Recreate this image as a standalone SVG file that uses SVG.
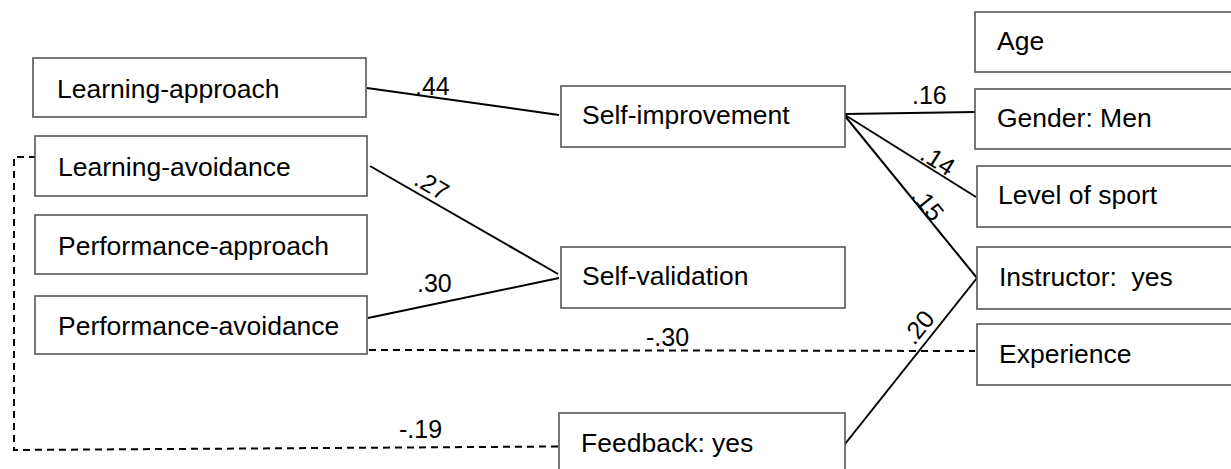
<svg xmlns="http://www.w3.org/2000/svg" width="1231" height="469" viewBox="0 0 1231 469">
  <style>
    .box { fill: #ffffff; stroke: #555555; stroke-width: 1.6; }
    .lbl { font-family: "Liberation Sans", Arial, sans-serif; font-size: 26.5px; fill: #000000; white-space: pre; }
    .coef { font-family: "Liberation Sans", Arial, sans-serif; font-size: 25px; fill: #000000; }
    .path { fill: none; stroke: #000000; stroke-width: 2; }
    .dash { fill: none; stroke: #000000; stroke-width: 2; stroke-dasharray: 7 5; }
  </style>
  <rect width="1231" height="469" fill="#ffffff"/>

  <!-- connectors -->
  <g id="connectors">
    <line class="path" x1="367" y1="88" x2="559" y2="115"/>
    <line class="path" x1="370" y1="166" x2="558" y2="274"/>
    <line class="path" x1="368" y1="318" x2="559" y2="278"/>
    <line class="path" x1="845" y1="114" x2="975" y2="112"/>
    <line class="path" x1="845" y1="115" x2="976" y2="197"/>
    <line class="path" x1="845" y1="116" x2="977" y2="278"/>
    <line class="path" x1="845" y1="444" x2="977" y2="278"/>
    <line class="dash" x1="369" y1="350" x2="975" y2="351"/>
    <polyline class="dash" points="558,446.5 14,450 14,157 35,157"/>

    <text class="coef" x="415" y="95">.44</text>
    <text class="coef" transform="translate(432,185) rotate(30)" text-anchor="middle" dy="9">.27</text>
    <text class="coef" x="417" y="292">.30</text>
    <text class="coef" x="912" y="104">.16</text>
    <text class="coef" transform="translate(938,160) rotate(32)" text-anchor="middle" dy="9">.14</text>
    <text class="coef" transform="translate(928,204) rotate(51)" text-anchor="middle" dy="9">.15</text>
    <text class="coef" transform="translate(918,327) rotate(-51.5)" text-anchor="middle" dy="9">.20</text>
    <text class="coef" x="646" y="346">-.30</text>
    <text class="coef" x="399" y="438">-.19</text>
  </g>

  <!-- goal orientation predictors -->
  <g id="learning-approach">
    <rect class="box" x="33" y="58" width="333" height="59"/>
    <text class="lbl" x="57" y="98">Learning-approach</text>
  </g>
  <g id="learning-avoidance">
    <rect class="box" x="35" y="136" width="332" height="60"/>
    <text class="lbl" x="58" y="176">Learning-avoidance</text>
  </g>
  <g id="performance-approach">
    <rect class="box" x="35" y="215" width="332" height="59"/>
    <text class="lbl" x="58" y="255">Performance-approach</text>
  </g>
  <g id="performance-avoidance">
    <rect class="box" x="35" y="296" width="332" height="58"/>
    <text class="lbl" x="58" y="335">Performance-avoidance</text>
  </g>

  <!-- middle column -->
  <g id="self-improvement">
    <rect class="box" x="561" y="86" width="284" height="61"/>
    <text class="lbl" x="582" y="124">Self-improvement</text>
  </g>
  <g id="self-validation">
    <rect class="box" x="561" y="247" width="284" height="61"/>
    <text class="lbl" x="582" y="285">Self-validation</text>
  </g>
  <g id="feedback">
    <rect class="box" x="559" y="413" width="286" height="70"/>
    <text class="lbl" x="581" y="452">Feedback: yes</text>
  </g>

  <!-- right column -->
  <g id="age">
    <rect class="box" x="975" y="12" width="270" height="60"/>
    <text class="lbl" x="997" y="50">Age</text>
  </g>
  <g id="gender">
    <rect class="box" x="975" y="89" width="270" height="60"/>
    <text class="lbl" x="997" y="127">Gender: Men</text>
  </g>
  <g id="level-of-sport">
    <rect class="box" x="977" y="166" width="268" height="61"/>
    <text class="lbl" x="998" y="204">Level of sport</text>
  </g>
  <g id="instructor">
    <rect class="box" x="977" y="247" width="268" height="62"/>
    <text class="lbl" x="999" y="286">Instructor:  yes</text>
  </g>
  <g id="experience">
    <rect class="box" x="977" y="324" width="268" height="61"/>
    <text class="lbl" x="999" y="363">Experience</text>
  </g>
</svg>
